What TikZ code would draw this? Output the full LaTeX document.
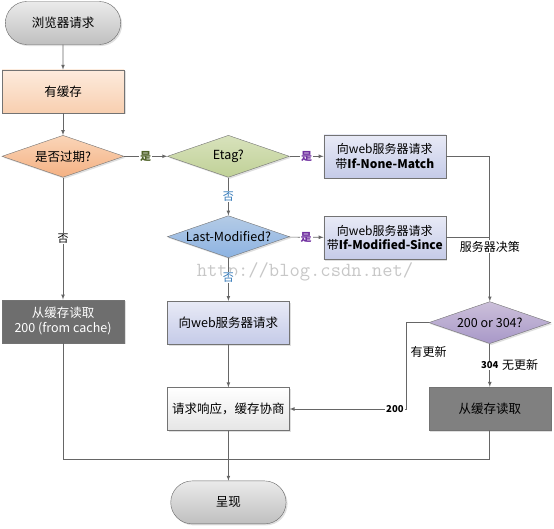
\documentclass[tikz,border=0pt]{standalone}
\usepackage{fontspec}
\setmainfont{Noto Sans CJK SC}
\usetikzlibrary{shapes.geometric,shapes.misc,positioning,shadows}

\definecolor{linegray}{HTML}{666666}
\definecolor{yesgreen}{HTML}{4F6228}
\definecolor{yespurple}{HTML}{7030A0}
\definecolor{noblue}{HTML}{2E75B6}
\definecolor{peachtop}{HTML}{FDEBDD}
\definecolor{peachbot}{HTML}{F8CFB0}
\definecolor{orangetop}{HTML}{FAD5B8}
\definecolor{orangebot}{HTML}{F4B183}
\definecolor{olivetop}{HTML}{D8E2BC}
\definecolor{olivebot}{HTML}{C0D197}
\definecolor{steeltop}{HTML}{B4CBE6}
\definecolor{steelbot}{HTML}{8DB3E2}
\definecolor{lavtop}{HTML}{E8EAF6}
\definecolor{lavbot}{HTML}{C5CBE8}
\definecolor{violettop}{HTML}{CCC0DA}
\definecolor{violetbot}{HTML}{A898C8}

\tikzset{
  softshadow/.style={drop shadow={shadow xshift=1.5pt,shadow yshift=-1.5pt,opacity=0.25}},
  pill/.style={rounded rectangle,draw=black!60,minimum width=122pt,minimum height=43pt,
    top color=black!8,bottom color=black!25,softshadow},
  box/.style={rectangle,draw=black!55,minimum width=122pt,minimum height=43pt,align=center,softshadow},
  askbox/.style={box,top color=lavtop,bottom color=lavbot,inner xsep=1pt,font=\fontsize{12}{14.5}\selectfont},
  decision/.style={diamond,draw=black!55,aspect=2.9,inner sep=0pt,minimum width=122pt,minimum height=42pt,softshadow},
  line/.style={draw=linegray,line width=0.7pt},
  lbl/.style={fill=white,inner sep=1pt,font=\fontsize{11}{12}\selectfont},
  yes/.style={lbl,font=\fontsize{11}{12}\selectfont\bfseries},
  num/.style={fill=white,inner sep=1pt,font=\fontsize{9.5}{10}\selectfont\bfseries},
  watermark/.style={text=black!22,font=\fontsize{20}{20}\ttfamily}
}

\begin{document}
\begin{tikzpicture}[x=1pt,y=-1pt,>=latex,font=\fontsize{12.5}{15}\selectfont]
  \useasboundingbox (0,0) rectangle (554,528);
  \node[watermark] at (305,272) {http://blog.csdn.net/};

  % left column
  \node[pill] (start) at (63,23) {浏览器请求};
  \node[box,below=25pt of start,top color=peachtop,bottom color=peachbot] (cache) {有缓存};
  \node[decision,below=22pt of cache,top color=orangetop,bottom color=orangebot] (expired) {是否过期?};
  \node[box,below=122pt of expired,fill=black!57,text=white] (hit) {从缓存读取\\200 (from cache)};

  % middle column
  \node[decision,right=43pt of expired,top color=olivetop,bottom color=olivebot] (etag) {Etag?};
  \node[decision,below=38pt of etag,top color=steeltop,bottom color=steelbot] (lastmod) {Last-Modified?};
  \node[box,below=43pt of lastmod,top color=lavtop,bottom color=lavbot] (ask) {向web服务器请求};
  \node[box,below=43pt of ask,top color=white,bottom color=black!10] (nego) {请求响应，缓存协商};
  \node[pill,below=50pt of nego] (show) {呈现};

  % right column
  \node[askbox,right=34pt of etag] (reqetag) {向web服务器请求\\带\textbf{If-None-Match}};
  \node[askbox,below=38pt of reqetag] (reqlm) {向web服务器请求\\带\textbf{If-Modified-Since}};
  \node[decision,right=139pt of ask,top color=violettop,bottom color=violetbot] (decide) {200 or 304?};
  \node[box,below=43pt of decide,fill=black!50] (cached) {从缓存读取};

  \coordinate (merge) at ([yshift=-29pt]nego.south);
  \coordinate (turn) at ([xshift=-22pt]decide.west);

  % connectors
  \draw[line,->] (start) -- (cache);
  \draw[line,->] (cache) -- (expired);
  \draw[line,->] (expired) -- node[yes,text=yesgreen]{是} (etag);
  \draw[line,->] (expired) -- node[lbl]{否} (hit);
  \draw[line,->] (etag) -- node[yes,text=yespurple]{是} (reqetag);
  \draw[line,->] (etag) -- node[lbl,text=noblue]{否} (lastmod);
  \draw[line,->] (lastmod) -- node[yes,text=yespurple]{是} (reqlm);
  \draw[line,->] (lastmod) -- node[lbl,text=noblue,pos=0.45]{否} (ask);
  \draw[line,->] (ask) -- (nego);
  \draw[line,->] (reqetag) -| (decide);
  \draw[line] (reqlm) -- (reqlm -| decide);
  \node[lbl,font=\fontsize{12}{14}\selectfont] at ([yshift=-9pt]reqlm.east -| decide) {服务器决策};
  \draw[line,->] (decide.west) -- (turn) |- node[num,pos=0.55]{200} (nego);
  \node[lbl,fill=none,font=\fontsize{12}{14}\selectfont] at ([xshift=22pt,yshift=-29pt]turn) {有更新};
  \draw[line,->] (decide) -- node[num]{304} node[lbl,fill=none,font=\fontsize{12}{14}\selectfont,right=11pt]{无更新} (cached);
  \draw[line,->] (nego) -- (show);
  \draw[line] (hit) |- (merge);
  \draw[line] (cached) |- (merge);
\end{tikzpicture}
\end{document}
